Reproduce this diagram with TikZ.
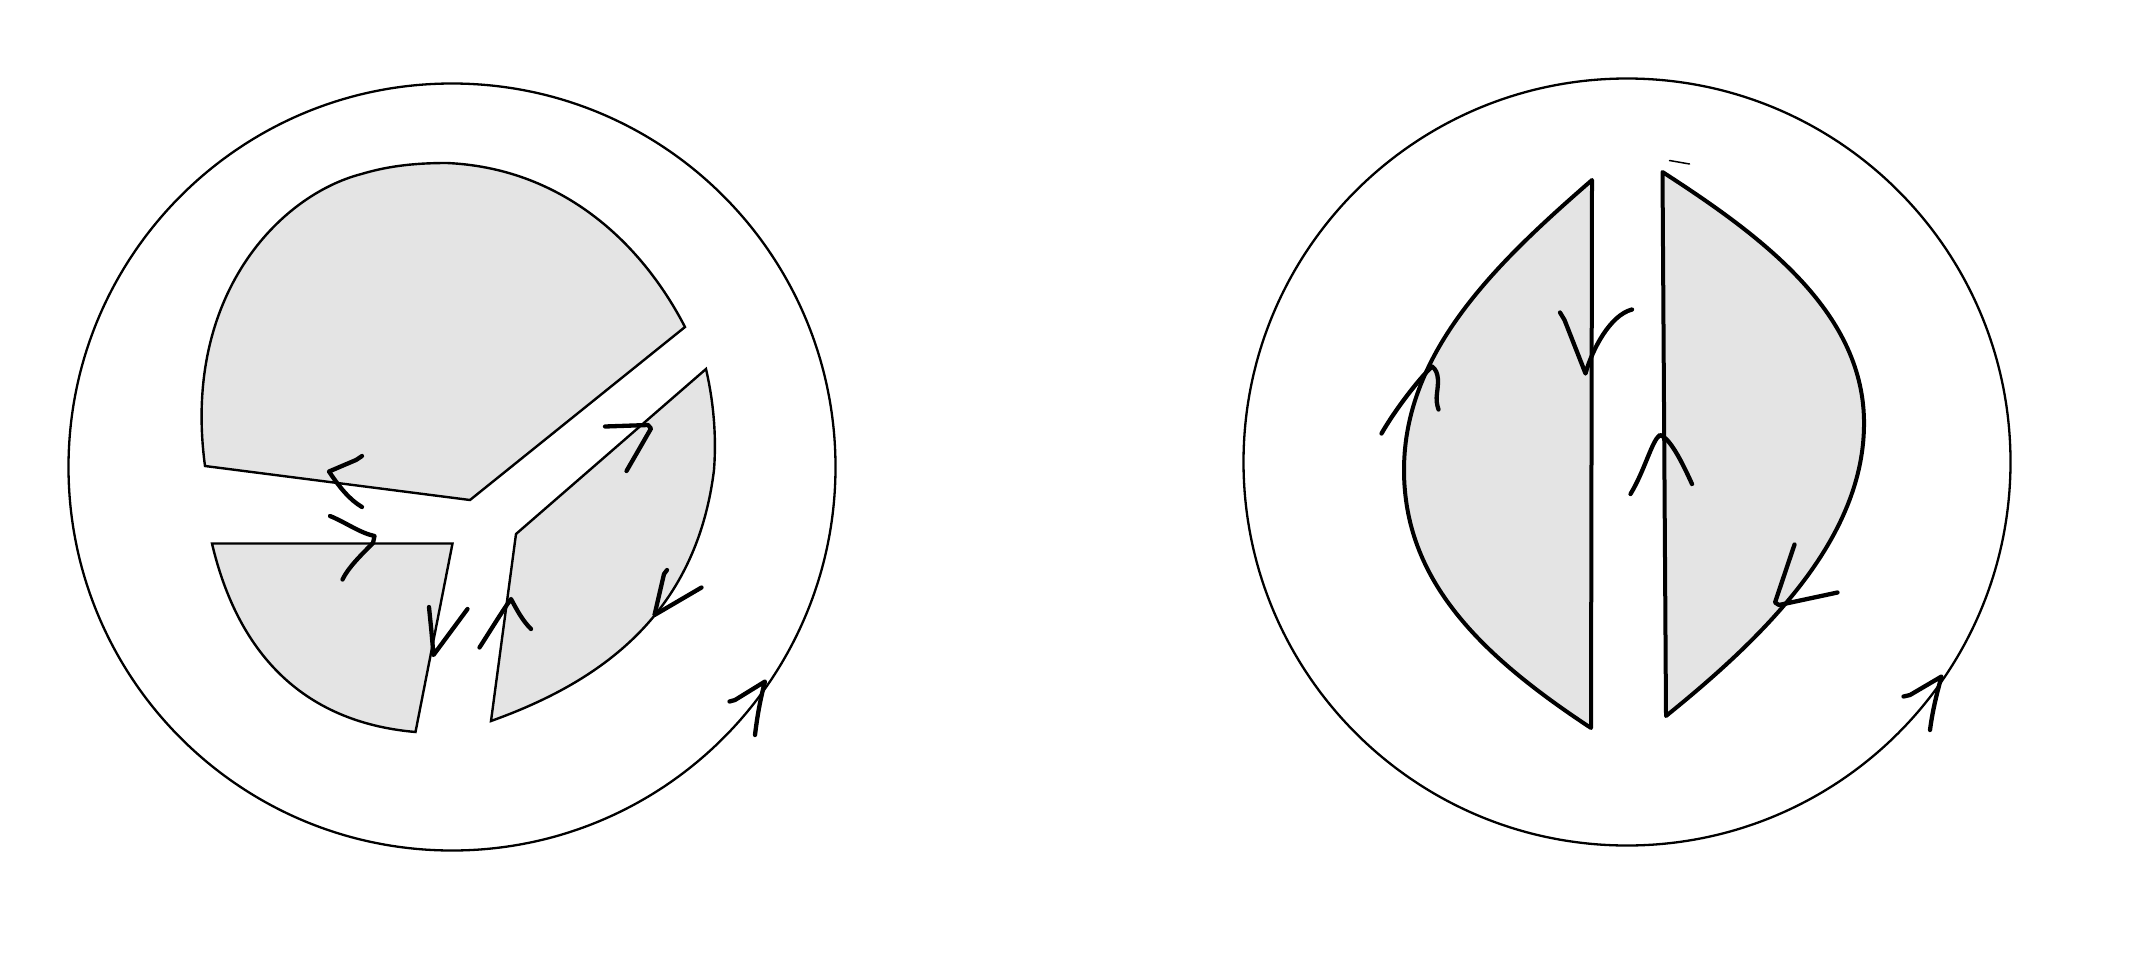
\documentclass[tikz,border=0pt]{standalone}
\usetikzlibrary{calc}
\definecolor{piecefill}{RGB}{228,228,228}
\tikzset{
  outer/.style={draw=black, line width=2.3pt},
  pieceL/.style={draw=black, fill=piecefill, line width=2.4pt, line join=miter},
  pieceR/.style={draw=black, fill=piecefill, line width=4pt, line join=round},
  chev/.style={draw=black, line width=4.3pt, line cap=round, line join=round},
  stray/.style={draw=black, line width=1.5pt, line cap=round}
}
\begin{document}
\begin{tikzpicture}[x=1pt,y=-1pt]
\useasboundingbox (0,0) rectangle (2136,961);
\fill[white] (0,0) rectangle (2136,961);

% ---------- left picture ----------
\coordinate (cl) at (452,467);
\draw[outer] (cl) circle[radius=383.5];

% top piece
\path[pieceL] (205,466) -- (470,500) -- (685,327)
  .. controls (640,240) and (560,168) .. (447,163)
  .. controls (410,163) and (385,167) .. (361.5,174)
  .. controls (280,195) and (182,295) .. (205,466) -- cycle;

% right piece
\path[pieceL] (706,369) -- (516,534) -- (491,721)
  .. controls (600,682) and (696,615) .. (714,470)
  .. controls (717,430) and (712,395) .. (706,369) -- cycle;

% bottom-left piece
\path[pieceL] (212,543.5) -- (452.5,543.5) -- (415.5,732)
  .. controls (300,722) and (237,650) .. (212,543.5) -- cycle;

% chevrons (left)
\draw[chev] (362,456) -- (356,460) -- (329,471.5)
  .. controls (340,488) and (350,500) .. (362,507);
\draw[chev] (330,516) .. controls (345,522) and (360,533) .. (374.5,536)
  -- (373,543) .. controls (360,556) and (348,568) .. (342.5,579.5);
\draw[chev] (429,607) -- (431.5,632) -- (433.5,655) -- (467.5,609);
\draw[chev] (479.5,647.5) .. controls (492,628) and (503,610) .. (511,599)
  .. controls (517,610) and (522,620) .. (531,629);
\draw[chev] (667,570) -- (664,574) -- (654.5,615) -- (701.5,587.5);
\draw[chev] (605,426.5) -- (648,425) -- (651,428.5) -- (626.5,471);
\draw[chev] (729.5,701.5) -- (735,700) -- (765,681.5)
  .. controls (760,700) and (757,718) .. (755,735);

% ---------- right picture ----------
\coordinate (cr) at (1627,462);
\draw[outer] (cr) circle[radius=383.5];

% left half
\path[pieceR] (1592,180) -- (1591,728)
  .. controls (1480,655) and (1404,580) .. (1404,470)
  .. controls (1404,350) and (1500,260) .. (1592,180) -- cycle;

% right half
\path[pieceR] (1662.5,172) -- (1666,716)
  .. controls (1760,640) and (1866,540) .. (1864,420)
  .. controls (1862,310) and (1760,235) .. (1662.5,172) -- cycle;

\draw[stray] (1669.5,160.5) -- (1689.5,164);

% chevrons (right)
\draw[chev] (1381.5,433.5) .. controls (1395,410) and (1418,380) .. (1432,366.5)
  .. controls (1440,372) and (1438,385) .. (1437,393) .. controls (1436,400) and (1437,405) .. (1438.5,409.5);
\draw[chev] (1560,312.5) -- (1564.5,320) -- (1585.5,373.5)
  .. controls (1592,350) and (1610,315) .. (1632,309.5);
\draw[chev] (1630.5,494) .. controls (1645,470) and (1652,440) .. (1660,435)
  .. controls (1670,438) and (1682,462) .. (1692,484);
\draw[chev] (1794.5,544.5) -- (1775,602.5) -- (1779,605) -- (1837.5,592.5);
\draw[chev] (1903.5,696.5) -- (1910,695) -- (1941.5,676.5)
  .. controls (1936,696) and (1932,714) .. (1930,730);
\end{tikzpicture}
\end{document}
